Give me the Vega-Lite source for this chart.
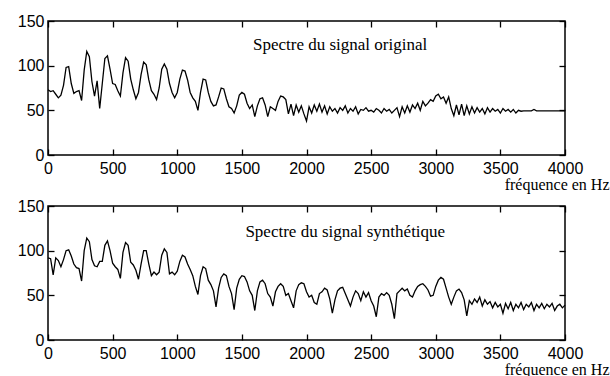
{
  "$schema": "https://vega.github.io/schema/vega-lite/v6.json",
  "background": "white",
  "padding": {"left": 16, "top": 12, "right": 0, "bottom": 0},
  "bounds": "flush",
  "spacing": 51,
  "config": {
    "view": {"stroke": "black", "strokeWidth": 1.5},
    "axis": {
      "grid": false, "domain": false, "tickColor": "black", "tickSize": -6, "tickWidth": 1.3,
      "labelColor": "black", "labelFont": "Liberation Sans", "labelFontSize": 16, "labelFlush": false, "format": "d",
      "titleColor": "black", "titleFont": "Liberation Serif", "titleFontSize": 16, "titleFontWeight": "normal"
    }
  },
  "datasets": {
    "orig": [
      {"f":0,"v":73},{"f":20,"v":71},{"f":40,"v":72},{"f":60,"v":68},{"f":80,"v":64},{"f":100,"v":67},{"f":120,"v":78},{"f":140,"v":98},{"f":160,"v":99},{"f":180,"v":80},
      {"f":200,"v":69},{"f":220,"v":71},{"f":240,"v":72},{"f":260,"v":61},{"f":280,"v":95},{"f":300,"v":116},{"f":320,"v":110},{"f":340,"v":82},{"f":360,"v":66},{"f":380,"v":83},
      {"f":400,"v":52},{"f":420,"v":80},{"f":440,"v":108},{"f":460,"v":111},{"f":480,"v":96},{"f":500,"v":80},{"f":520,"v":79},{"f":540,"v":72},{"f":560,"v":66},{"f":580,"v":92},
      {"f":600,"v":109},{"f":620,"v":105},{"f":640,"v":85},{"f":660,"v":73},{"f":680,"v":63},{"f":700,"v":70},{"f":720,"v":90},{"f":740,"v":104},{"f":760,"v":101},{"f":780,"v":84},
      {"f":800,"v":72},{"f":820,"v":68},{"f":840,"v":62},{"f":860,"v":75},{"f":880,"v":96},{"f":900,"v":102},{"f":920,"v":96},{"f":940,"v":80},{"f":960,"v":70},{"f":980,"v":64},
      {"f":1000,"v":70},{"f":1020,"v":85},{"f":1040,"v":95},{"f":1060,"v":94},{"f":1080,"v":84},{"f":1100,"v":70},{"f":1120,"v":64},{"f":1140,"v":60},{"f":1160,"v":50},{"f":1180,"v":70},
      {"f":1200,"v":85},{"f":1220,"v":84},{"f":1240,"v":70},{"f":1260,"v":60},{"f":1280,"v":55},{"f":1300,"v":56},{"f":1320,"v":65},{"f":1340,"v":75},{"f":1360,"v":74},{"f":1380,"v":63},
      {"f":1400,"v":54},{"f":1420,"v":52},{"f":1440,"v":47},{"f":1460,"v":55},{"f":1480,"v":67},{"f":1500,"v":70},{"f":1520,"v":68},{"f":1540,"v":58},{"f":1560,"v":52},{"f":1580,"v":56},
      {"f":1600,"v":43},{"f":1620,"v":55},{"f":1640,"v":63},{"f":1660,"v":64},{"f":1680,"v":56},{"f":1700,"v":43},{"f":1720,"v":54},{"f":1740,"v":52},{"f":1760,"v":50},{"f":1780,"v":60},
      {"f":1800,"v":66},{"f":1820,"v":65},{"f":1840,"v":62},{"f":1860,"v":46},{"f":1880,"v":57},{"f":1900,"v":44},{"f":1920,"v":56},{"f":1940,"v":48},{"f":1960,"v":55},{"f":1980,"v":46},
      {"f":2000,"v":38},{"f":2020,"v":54},{"f":2040,"v":47},{"f":2060,"v":56},{"f":2080,"v":49},{"f":2100,"v":57},{"f":2120,"v":48},{"f":2140,"v":55},{"f":2160,"v":46},{"f":2180,"v":54},
      {"f":2200,"v":49},{"f":2220,"v":52},{"f":2240,"v":47},{"f":2260,"v":53},{"f":2280,"v":50},{"f":2300,"v":55},{"f":2320,"v":47},{"f":2340,"v":52},{"f":2360,"v":49},{"f":2380,"v":54},
      {"f":2400,"v":46},{"f":2420,"v":51},{"f":2440,"v":50},{"f":2460,"v":53},{"f":2480,"v":49},{"f":2500,"v":50},{"f":2520,"v":48},{"f":2540,"v":52},{"f":2560,"v":50},{"f":2580,"v":47},
      {"f":2600,"v":52},{"f":2620,"v":49},{"f":2640,"v":51},{"f":2660,"v":47},{"f":2680,"v":50},{"f":2700,"v":53},{"f":2720,"v":43},{"f":2740,"v":54},{"f":2760,"v":47},{"f":2780,"v":55},
      {"f":2800,"v":48},{"f":2820,"v":56},{"f":2840,"v":52},{"f":2860,"v":58},{"f":2880,"v":50},{"f":2900,"v":60},{"f":2920,"v":55},{"f":2940,"v":58},{"f":2960,"v":62},{"f":2980,"v":60},
      {"f":3000,"v":66},{"f":3020,"v":68},{"f":3040,"v":63},{"f":3060,"v":65},{"f":3080,"v":58},{"f":3100,"v":65},{"f":3120,"v":52},{"f":3140,"v":44},{"f":3160,"v":56},{"f":3180,"v":45},
      {"f":3200,"v":57},{"f":3220,"v":44},{"f":3240,"v":55},{"f":3260,"v":46},{"f":3280,"v":54},{"f":3300,"v":47},{"f":3320,"v":53},{"f":3340,"v":48},{"f":3360,"v":52},{"f":3380,"v":46},
      {"f":3400,"v":53},{"f":3420,"v":48},{"f":3440,"v":52},{"f":3460,"v":49},{"f":3480,"v":51},{"f":3500,"v":47},{"f":3520,"v":52},{"f":3540,"v":49},{"f":3560,"v":51},{"f":3580,"v":48},
      {"f":3600,"v":51},{"f":3620,"v":47},{"f":3640,"v":50},{"f":3660,"v":49},{"f":3680,"v":49.5},{"f":3700,"v":49.5},{"f":3720,"v":49.5},{"f":3740,"v":49.5},{"f":3760,"v":51},{"f":3780,"v":49.5},
      {"f":3800,"v":49.5},{"f":3850,"v":49.5},{"f":3900,"v":49.5},{"f":3950,"v":49.5},{"f":4000,"v":49.5}
    ],
    "synth": [
      {"f":0,"v":92},{"f":20,"v":91},{"f":40,"v":73},{"f":60,"v":92},{"f":80,"v":89},{"f":100,"v":82},{"f":120,"v":90},{"f":140,"v":100},{"f":160,"v":101},{"f":180,"v":94},
      {"f":200,"v":85},{"f":220,"v":81},{"f":240,"v":80},{"f":260,"v":66},{"f":280,"v":100},{"f":300,"v":114},{"f":320,"v":110},{"f":340,"v":90},{"f":360,"v":83},{"f":380,"v":82},
      {"f":400,"v":88},{"f":420,"v":88},{"f":440,"v":106},{"f":460,"v":111},{"f":480,"v":100},{"f":500,"v":86},{"f":520,"v":82},{"f":540,"v":79},{"f":560,"v":69},{"f":580,"v":98},
      {"f":600,"v":109},{"f":620,"v":106},{"f":640,"v":87},{"f":660,"v":84},{"f":680,"v":78},{"f":700,"v":68},{"f":720,"v":85},{"f":740,"v":100},{"f":760,"v":100},{"f":780,"v":85},
      {"f":800,"v":72},{"f":820,"v":76},{"f":840,"v":73},{"f":860,"v":76},{"f":880,"v":95},{"f":900,"v":102},{"f":920,"v":98},{"f":940,"v":74},{"f":960,"v":76},{"f":980,"v":73},
      {"f":1000,"v":77},{"f":1020,"v":88},{"f":1040,"v":95},{"f":1060,"v":93},{"f":1080,"v":85},{"f":1100,"v":79},{"f":1120,"v":72},{"f":1140,"v":60},{"f":1160,"v":51},{"f":1180,"v":72},
      {"f":1200,"v":82},{"f":1220,"v":80},{"f":1240,"v":67},{"f":1260,"v":62},{"f":1280,"v":55},{"f":1300,"v":37},{"f":1320,"v":58},{"f":1340,"v":70},{"f":1360,"v":74},{"f":1380,"v":72},
      {"f":1400,"v":60},{"f":1420,"v":52},{"f":1440,"v":34},{"f":1460,"v":58},{"f":1480,"v":68},{"f":1500,"v":72},{"f":1520,"v":71},{"f":1540,"v":65},{"f":1560,"v":55},{"f":1580,"v":50},
      {"f":1600,"v":33},{"f":1620,"v":55},{"f":1640,"v":65},{"f":1660,"v":67},{"f":1680,"v":63},{"f":1700,"v":52},{"f":1720,"v":48},{"f":1740,"v":38},{"f":1760,"v":54},{"f":1780,"v":60},
      {"f":1800,"v":63},{"f":1820,"v":60},{"f":1840,"v":50},{"f":1860,"v":52},{"f":1880,"v":44},{"f":1900,"v":36},{"f":1920,"v":55},{"f":1940,"v":62},{"f":1960,"v":64},{"f":1980,"v":63},
      {"f":2000,"v":54},{"f":2020,"v":48},{"f":2040,"v":50},{"f":2060,"v":42},{"f":2080,"v":40},{"f":2100,"v":52},{"f":2120,"v":54},{"f":2140,"v":58},{"f":2160,"v":56},{"f":2180,"v":46},
      {"f":2200,"v":30},{"f":2220,"v":45},{"f":2240,"v":55},{"f":2260,"v":58},{"f":2280,"v":59},{"f":2300,"v":52},{"f":2320,"v":45},{"f":2340,"v":38},{"f":2360,"v":48},{"f":2380,"v":55},
      {"f":2400,"v":52},{"f":2420,"v":44},{"f":2440,"v":54},{"f":2460,"v":48},{"f":2480,"v":53},{"f":2500,"v":44},{"f":2520,"v":38},{"f":2540,"v":26},{"f":2560,"v":48},{"f":2580,"v":52},
      {"f":2600,"v":50},{"f":2620,"v":53},{"f":2640,"v":50},{"f":2660,"v":40},{"f":2680,"v":24},{"f":2700,"v":52},{"f":2720,"v":55},{"f":2740,"v":58},{"f":2760,"v":55},{"f":2780,"v":57},
      {"f":2800,"v":50},{"f":2820,"v":48},{"f":2840,"v":55},{"f":2860,"v":60},{"f":2880,"v":62},{"f":2900,"v":63},{"f":2920,"v":60},{"f":2940,"v":56},{"f":2960,"v":49},{"f":2980,"v":50},
      {"f":3000,"v":60},{"f":3020,"v":67},{"f":3040,"v":70},{"f":3060,"v":68},{"f":3080,"v":58},{"f":3100,"v":48},{"f":3120,"v":40},{"f":3140,"v":48},{"f":3160,"v":55},{"f":3180,"v":57},
      {"f":3200,"v":53},{"f":3220,"v":45},{"f":3240,"v":27},{"f":3260,"v":44},{"f":3280,"v":40},{"f":3300,"v":46},{"f":3320,"v":42},{"f":3340,"v":48},{"f":3360,"v":38},{"f":3380,"v":45},
      {"f":3400,"v":40},{"f":3420,"v":43},{"f":3440,"v":36},{"f":3460,"v":42},{"f":3480,"v":37},{"f":3500,"v":40},{"f":3520,"v":30},{"f":3540,"v":41},{"f":3560,"v":35},{"f":3580,"v":42},
      {"f":3600,"v":33},{"f":3620,"v":40},{"f":3640,"v":36},{"f":3660,"v":42},{"f":3680,"v":34},{"f":3700,"v":40},{"f":3720,"v":37},{"f":3740,"v":42},{"f":3760,"v":33},{"f":3780,"v":40},
      {"f":3800,"v":36},{"f":3820,"v":41},{"f":3840,"v":35},{"f":3860,"v":40},{"f":3880,"v":37},{"f":3900,"v":41},{"f":3920,"v":33},{"f":3940,"v":38},{"f":3960,"v":40},{"f":3980,"v":36},
      {"f":4000,"v":39}
    ]
  },
  "vconcat": [
    {
      "width": 517, "height": 134,
      "resolve": {"axis": {"x": "independent", "y": "independent"}},
      "layer": [
        {
          "data": {"name": "orig"},
          "mark": {"type": "line", "color": "black", "strokeWidth": 1.3},
          "encoding": {
            "x": {"field": "f", "type": "quantitative", "scale": {"domain": [0, 4000], "nice": false},
              "axis": {"orient": "bottom", "values": [0,500,1000,1500,2000,2500,3000,3500,4000], "labelPadding": 11,
                "title": "fréquence en Hz", "titleX": 561, "titleY": 21, "titleAlign": "right", "titleBaseline": "top", "titleAnchor": null}},
            "y": {"field": "v", "type": "quantitative", "scale": {"domain": [0, 150], "nice": false},
              "axis": {"orient": "left", "values": [0,50,100,150], "labelPadding": 10, "title": null}}
          }
        },
        {
          "data": {"name": "orig"},
          "mark": {"type": "line", "strokeOpacity": 0},
          "encoding": {
            "x": {"field": "f", "type": "quantitative", "axis": {"orient": "top", "values": [0,500,1000,1500,2000,2500,3000,3500,4000], "labels": false, "title": null}},
            "y": {"field": "v", "type": "quantitative", "axis": {"orient": "right", "values": [0,50,100,150], "labels": false, "title": null}}
          }
        },
        {
          "data": {"values": [{"label": "Spectre du signal original"}]},
          "mark": {"type": "text", "font": "Liberation Serif", "fontSize": 17, "color": "black"},
          "encoding": {
            "x": {"datum": 2260, "type": "quantitative", "axis": null},
            "y": {"datum": 123, "type": "quantitative", "axis": null},
            "text": {"field": "label", "type": "nominal"}
          }
        }
      ]
    },
    {
      "width": 517, "height": 134,
      "resolve": {"axis": {"x": "independent", "y": "independent"}},
      "layer": [
        {
          "data": {"name": "synth"},
          "mark": {"type": "line", "color": "black", "strokeWidth": 1.3},
          "encoding": {
            "x": {"field": "f", "type": "quantitative", "scale": {"domain": [0, 4000], "nice": false},
              "axis": {"orient": "bottom", "values": [0,500,1000,1500,2000,2500,3000,3500,4000], "labelPadding": 11,
                "title": "fréquence en Hz", "titleX": 561, "titleY": 21, "titleAlign": "right", "titleBaseline": "top", "titleAnchor": null}},
            "y": {"field": "v", "type": "quantitative", "scale": {"domain": [0, 150], "nice": false},
              "axis": {"orient": "left", "values": [0,50,100,150], "labelPadding": 10, "title": null}}
          }
        },
        {
          "data": {"name": "synth"},
          "mark": {"type": "line", "strokeOpacity": 0},
          "encoding": {
            "x": {"field": "f", "type": "quantitative", "axis": {"orient": "top", "values": [0,500,1000,1500,2000,2500,3000,3500,4000], "labels": false, "title": null}},
            "y": {"field": "v", "type": "quantitative", "axis": {"orient": "right", "values": [0,50,100,150], "labels": false, "title": null}}
          }
        },
        {
          "data": {"values": [{"label": "Spectre du signal synthétique"}]},
          "mark": {"type": "text", "font": "Liberation Serif", "fontSize": 17, "color": "black"},
          "encoding": {
            "x": {"datum": 2300, "type": "quantitative", "axis": null},
            "y": {"datum": 121, "type": "quantitative", "axis": null},
            "text": {"field": "label", "type": "nominal"}
          }
        }
      ]
    }
  ]
}
